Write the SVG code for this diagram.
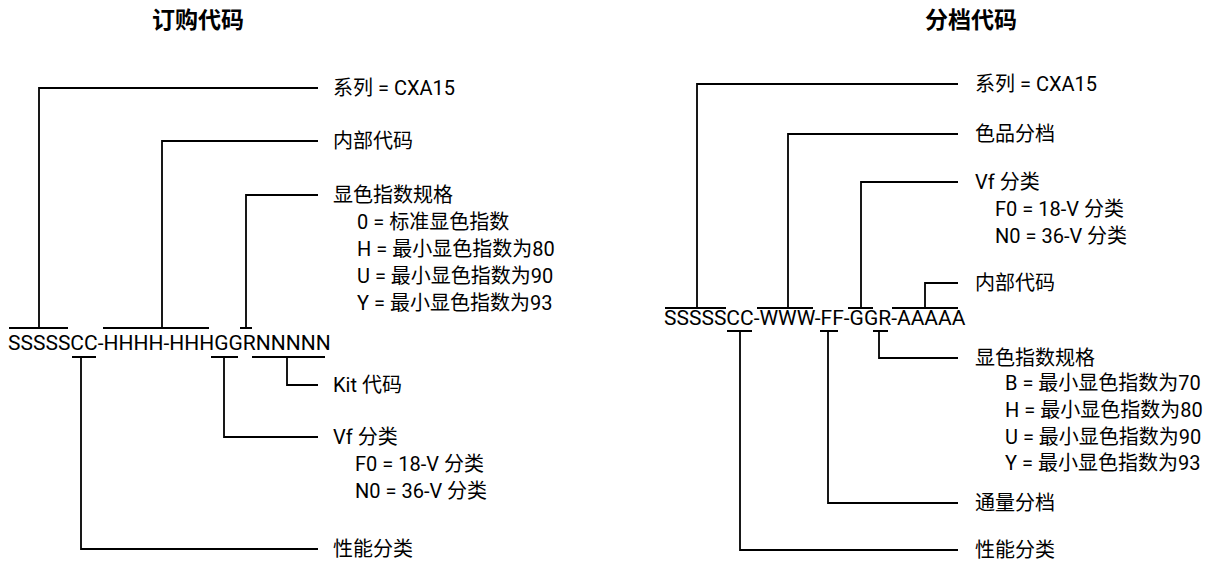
<svg xmlns="http://www.w3.org/2000/svg" width="1216" height="563" viewBox="0 0 1216 563">
<style>
.t{font-family:"Noto Sans CJK SC","Noto Sans",sans-serif;font-size:23px;font-weight:bold;fill:#000;text-anchor:middle}
.l{font-family:Roboto,"Noto Sans CJK SC",sans-serif;font-size:20px;fill:#000}
.c{font-family:Roboto,"Liberation Sans",sans-serif;font-size:21px;fill:#000}
.w{fill:none;stroke:#000;stroke-width:1.8}
</style>
<rect width="1216" height="563" fill="#fff"/>
<g id="title-left"><text class="t" x="198" y="28">订购代码</text></g>
<g id="title-right"><text class="t" x="971" y="28">分档代码</text></g>
<g id="code-left"><text class="c" x="8" y="350">SSSSSCC-HHHH-HHHGGRNNNNN</text></g>
<g id="code-right"><text class="c" x="664" y="325">SSSSSCC-WWW-FF-GGR-AAAAA</text></g>
<g id="connectors">
<path class="w" d="M9 328H68M39 328V88H318"/>
<path class="w" d="M103 328H209M162 328V141H318"/>
<path class="w" d="M240 328H252M246 328V195H318"/>
<path class="w" d="M72 357H96M81 357V549H318"/>
<path class="w" d="M211 357H238M224 357V437H318"/>
<path class="w" d="M252 357H325M287 357V385H318"/>
<path class="w" d="M665 308H726M697 308V84H958"/>
<path class="w" d="M757 308H813M788 308V134H958"/>
<path class="w" d="M848 308H873M861 308V182H958"/>
<path class="w" d="M892 308H958M925 308V283H958"/>
<path class="w" d="M727 331H752M740 331V550H958"/>
<path class="w" d="M820 331H838M828 331V503H958"/>
<path class="w" d="M873 331H888M879 331V358H958"/>
</g>
<g id="label-left-series"><text class="l" x="333" y="95">系列 = CXA15</text></g>
<g id="label-left-internal"><text class="l" x="333" y="148">内部代码</text></g>
<g id="label-left-cri">
<text class="l" x="333" y="202">显色指数规格</text>
<text class="l" x="357" y="229">0 = 标准显色指数</text>
<text class="l" x="357" y="256">H = 最小显色指数为80</text>
<text class="l" x="357" y="283">U = 最小显色指数为90</text>
<text class="l" x="357" y="310">Y = 最小显色指数为93</text>
</g>
<g id="label-left-kit"><text class="l" x="333" y="392">Kit 代码</text></g>
<g id="label-left-vf">
<text class="l" x="333" y="444">Vf 分类</text>
<text class="l" x="355" y="471">F0 = 18-V 分类</text>
<text class="l" x="355" y="498">N0 = 36-V 分类</text>
</g>
<g id="label-left-perf"><text class="l" x="333" y="556">性能分类</text></g>
<g id="label-right-series"><text class="l" x="975" y="91">系列 = CXA15</text></g>
<g id="label-right-chroma"><text class="l" x="975" y="141">色品分档</text></g>
<g id="label-right-vf">
<text class="l" x="975" y="189">Vf 分类</text>
<text class="l" x="995" y="216">F0 = 18-V 分类</text>
<text class="l" x="995" y="243">N0 = 36-V 分类</text>
</g>
<g id="label-right-internal"><text class="l" x="975" y="290">内部代码</text></g>
<g id="label-right-cri">
<text class="l" x="975" y="365">显色指数规格</text>
<text class="l" x="1005" y="390">B = 最小显色指数为70</text>
<text class="l" x="1005" y="417">H = 最小显色指数为80</text>
<text class="l" x="1005" y="444">U = 最小显色指数为90</text>
<text class="l" x="1005" y="470">Y = 最小显色指数为93</text>
</g>
<g id="label-right-flux"><text class="l" x="975" y="510">通量分档</text></g>
<g id="label-right-perf"><text class="l" x="975" y="557">性能分类</text></g>
</svg>
